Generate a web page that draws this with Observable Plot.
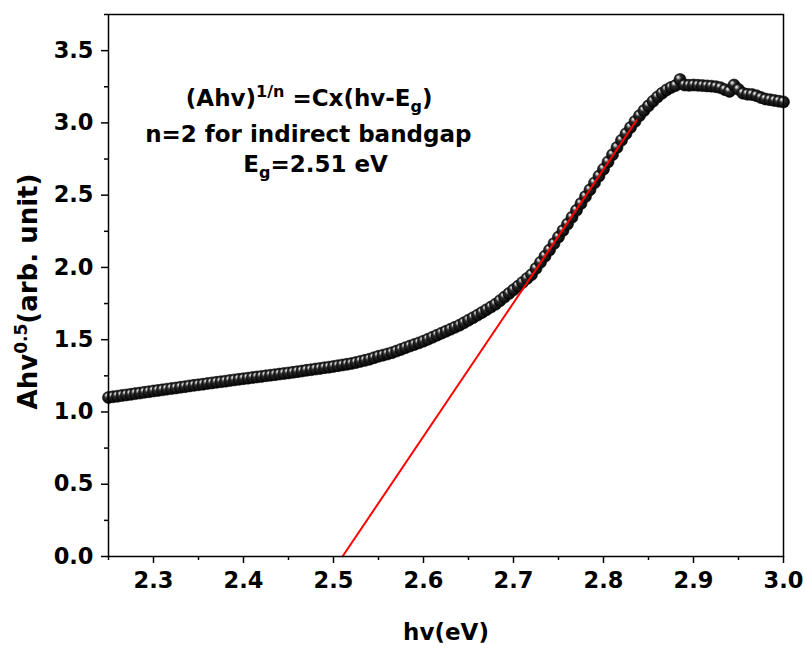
<!DOCTYPE html>
<html><head><meta charset="utf-8">
<script src="https://cdn.jsdelivr.net/npm/d3@7"></script>
<script src="https://cdn.jsdelivr.net/npm/@observablehq/plot@0.6"></script>
<style>body{margin:0;background:#fff;} svg{display:block;}</style>
</head><body><div id="chart"></div>
<script>
const hv = [2.250,2.255,2.260,2.265,2.270,2.275,2.280,2.285,2.290,2.295,
2.300,2.305,2.310,2.315,2.320,2.325,2.330,2.335,2.340,2.345,
2.350,2.355,2.360,2.365,2.370,2.375,2.380,2.385,2.390,2.395,
2.400,2.405,2.410,2.415,2.420,2.425,2.430,2.435,2.440,2.445,
2.450,2.455,2.460,2.465,2.470,2.475,2.480,2.485,2.490,2.495,
2.500,2.505,2.510,2.515,2.520,2.525,2.530,2.535,2.540,2.545,
2.550,2.555,2.560,2.565,2.570,2.575,2.580,2.585,2.590,2.595,
2.600,2.605,2.610,2.615,2.620,2.625,2.630,2.635,2.640,2.645,
2.650,2.655,2.660,2.665,2.670,2.675,2.680,2.685,2.690,2.695,
2.700,2.705,2.710,2.715,2.720,2.725,2.730,2.735,2.740,2.745,
2.750,2.755,2.760,2.765,2.770,2.775,2.780,2.785,2.790,2.795,
2.800,2.805,2.810,2.815,2.820,2.825,2.830,2.835,2.840,2.845,
2.850,2.855,2.860,2.865,2.870,2.875,2.880,2.885,2.890,2.895,
2.900,2.905,2.910,2.915,2.920,2.925,2.930,2.935,2.940,2.945,
2.950,2.955,2.960,2.965,2.970,2.975,2.980,2.985,2.990,2.995,3.000];
const absorb = [1.100,1.105,1.109,1.114,1.118,1.122,1.127,1.131,1.136,1.140,
1.145,1.149,1.153,1.158,1.162,1.166,1.171,1.175,1.180,1.184,
1.188,1.192,1.197,1.201,1.205,1.209,1.213,1.218,1.222,1.226,
1.230,1.234,1.238,1.242,1.246,1.250,1.254,1.258,1.262,1.266,
1.270,1.274,1.279,1.283,1.288,1.292,1.297,1.301,1.306,1.310,
1.315,1.320,1.325,1.330,1.335,1.342,1.350,1.357,1.365,1.375,
1.385,1.393,1.401,1.410,1.421,1.433,1.445,1.456,1.467,1.478,
1.490,1.503,1.517,1.531,1.545,1.558,1.572,1.586,1.600,1.617,
1.635,1.652,1.670,1.688,1.707,1.726,1.745,1.770,1.795,1.820,
1.845,1.870,1.896,1.923,1.950,1.993,2.035,2.078,2.120,2.165,
2.210,2.255,2.300,2.347,2.395,2.442,2.490,2.537,2.585,2.632,
2.680,2.730,2.780,2.830,2.880,2.925,2.968,3.010,3.050,3.085,
3.118,3.150,3.180,3.205,3.228,3.245,3.258,3.300,3.262,3.260,
3.262,3.260,3.258,3.256,3.254,3.250,3.244,3.230,3.218,3.262,
3.232,3.205,3.198,3.196,3.188,3.175,3.165,3.160,3.155,3.150,3.145];
const fitHv = [2.51, 2.837];
const fitVal = [0, 3.02];
const xTicks = [2.3,2.4,2.5,2.6,2.7,2.8,2.9,3.0];
const xMinor = [2.25,2.35,2.45,2.55,2.65,2.75,2.85,2.95];
const yTicks = [0,0.5,1.0,1.5,2.0,2.5,3.0,3.5];
const yMinor = [0.25,0.75,1.25,1.75,2.25,2.75,3.25,3.75];
const noteText = ["(Ahv)1/n =Cx(hv-Eg)", "n=2 for indirect bandgap", "Eg=2.51 eV"];
const noteX = [2.473, 2.472, 2.48];
const noteY = [3.17, 2.92, 2.713];

const pts = hv.map((x,i)=>({x, y: absorb[i]}));
const fit = fitHv.map((x,i)=>({x, y: fitVal[i]}));
const notes = noteText.map((t,i)=>({t, x: noteX[i], y: noteY[i]}));

const FONT = "DejaVu Sans";
const svg = Plot.plot({
  width: 807, height: 652,
  marginLeft: 108, marginRight: 24, marginTop: 14, marginBottom: 96,
  style: {fontFamily: FONT, fontWeight: "bold", fontSize: "22px", color: "#000", background: "#fff"},
  x: {domain: [2.25, 3.0]},
  y: {domain: [0, 3.75]},
  marks: [
    Plot.axisX(xMinor, {tickSize: 4, strokeWidth: 1.5, tickFormat: () => "", label: null}),
    Plot.axisY(yMinor, {tickSize: 4, strokeWidth: 1.5, tickFormat: () => "", label: null}),
    Plot.axisX(xTicks, {tickSize: 7, tickPadding: 9, strokeWidth: 1.5, tickFormat: d3.format(".1f"), fontSize: 22.5, fontWeight: "bold", label: null}),
    Plot.axisY(yTicks, {tickSize: 7, tickPadding: 8, strokeWidth: 1.5, tickFormat: d3.format(".1f"), fontSize: 22.5, fontWeight: "bold", label: null}),
    Plot.dot(pts, {x: "x", y: "y", r: 6, fill: "url(#ball)", stroke: "#000", strokeWidth: 0.6}),
    Plot.line(fit, {x: "x", y: "y", stroke: "#ff0000", strokeWidth: 2}),
    Plot.frame({stroke: "#000", strokeWidth: 1.5}),
    Plot.text(notes, {x: "x", y: "y", text: "t", fontSize: 23, fontWeight: "bold", textAnchor: "middle", lineAnchor: "middle", fill: "#000"}),
    Plot.text(["hv(eV)"], {frameAnchor: "bottom", dy: 76, text: d => d, fontSize: 23, fontWeight: "bold", textAnchor: "middle", lineAnchor: "middle", fill: "#000"}),
    Plot.text(["Ahv0.5(arb. unit)"], {frameAnchor: "left", dx: -80, dy: 6, rotate: -90, text: d => d, fontSize: 26, fontWeight: "bold", textAnchor: "middle", lineAnchor: "middle", fill: "#000"})
  ]
});

const defs = d3.select(svg).insert("defs", ":first-child");
const grad = defs.append("radialGradient").attr("id", "ball")
  .attr("cx", "45%").attr("cy", "45%").attr("r", "60%").attr("fx", "32%").attr("fy", "28%");
[["0%", "#ffffff"], ["14%", "#b8b8b8"], ["38%", "#2a2a2a"], ["100%", "#000"]].forEach(([o, c]) =>
  grad.append("stop").attr("offset", o).attr("stop-color", c));

const rich = new Map([
  ["(Ahv)1/n =Cx(hv-Eg)", '(Ahv)<tspan dy="-9" font-size="16">1/n</tspan><tspan dy="9"> =Cx(hv-E</tspan><tspan dy="6" font-size="16">g</tspan><tspan dy="-6">)</tspan>'],
  ["Eg=2.51 eV", 'E<tspan dy="6" font-size="16">g</tspan><tspan dy="-6">=2.51 eV</tspan>'],
  ["Ahv0.5(arb. unit)", 'Ahv<tspan dy="-10" font-size="17">0.5</tspan><tspan dy="10">(arb. unit)</tspan>']
]);
d3.select(svg).selectAll("text").each(function() {
  const r = rich.get(this.textContent);
  if (r) this.innerHTML = r;
});
document.getElementById("chart").appendChild(svg);
</script>
</body></html>
